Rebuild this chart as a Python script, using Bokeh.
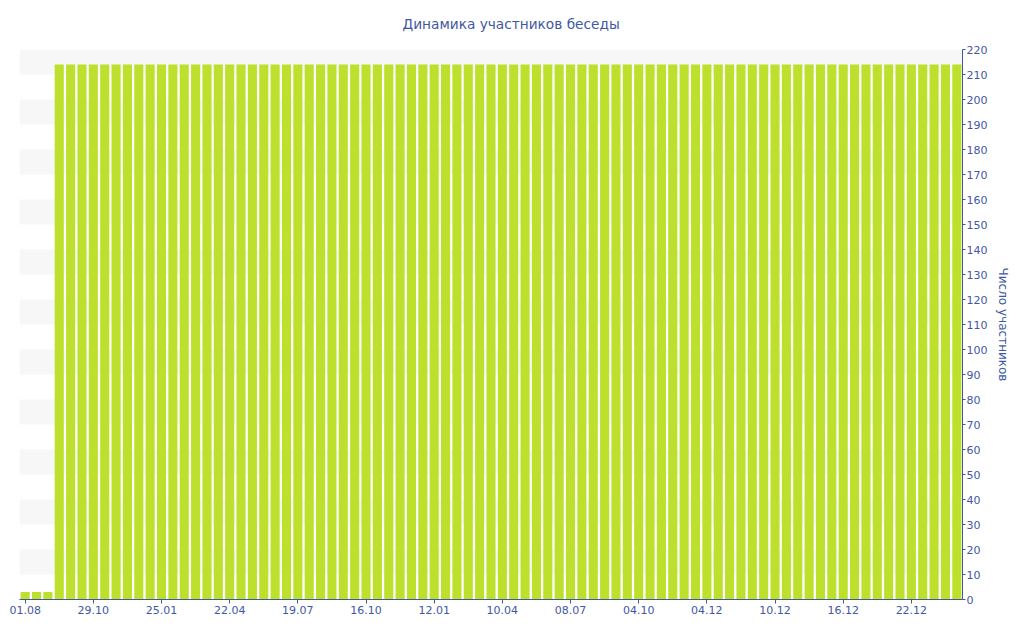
from bokeh.plotting import figure
from bokeh.models import FixedTicker, Range1d
from bokeh.embed import file_html
from bokeh.resources import INLINE

# Data
tick_labels = ["01.08", "29.10", "25.01", "22.04", "19.07", "16.10", "12.01",
               "10.04", "08.07", "04.10", "04.12", "10.12", "16.12", "22.12"]
tick_step = 6
values = [3, 3, 3] + [214] * 80
y_ticks = list(range(0, 221, 10))

TEXT = "#3f58a3"
BAR = "#bde02d"
FONT = "DejaVu Sans"

n = len(values)
xs = list(range(n))

p = figure(frame_width=943, frame_height=550, output_backend="svg", toolbar_location=None,
           x_range=Range1d(-0.5, n - 0.5), y_range=Range1d(0, 220),
           y_axis_location="right", min_border_left=19, min_border_top=10,
           min_border_bottom=10, min_border_right=10)
p.outline_line_color = None
p.background_fill_color = "white"

p.title.text = "Динамика участников беседы"
p.title.align = "left"
p.title.offset = 383
p.title.vertical_align = "top"
p.title.text_color = TEXT
p.title.text_font = FONT
p.title.text_font_size = "13.7px"
p.title.text_font_style = "normal"
p.title.text_line_height = 1.0
p.title.standoff = 31

p.vbar(x=xs, top=values, width=0.8, bottom=0, fill_color=BAR, line_color=None)

# x axis
xa = p.xaxis[0]
xticks = [i * tick_step for i in range(len(tick_labels))]
xa.ticker = FixedTicker(ticks=xticks)
xa.major_label_overrides = {t: lab for t, lab in zip(xticks, tick_labels)}
xa.axis_line_color = TEXT
xa.major_tick_line_color = TEXT
xa.major_tick_in = 0
xa.major_tick_out = 4
xa.minor_tick_line_color = None
xa.major_label_text_color = TEXT
xa.major_label_text_font = FONT
xa.major_label_text_font_size = "11px"
xa.major_label_standoff = 2

# y axis (right)
ya = p.yaxis[0]
ya.ticker = FixedTicker(ticks=y_ticks)
ya.axis_line_color = TEXT
ya.major_tick_line_color = TEXT
ya.major_tick_in = 0
ya.major_tick_out = 3
ya.minor_tick_line_color = None
ya.major_label_text_color = TEXT
ya.major_label_text_font = FONT
ya.major_label_text_font_size = "11px"
ya.major_label_standoff = 1
ya.axis_label = "Число участников"
ya.axis_label_text_color = TEXT
ya.axis_label_text_font = FONT
ya.axis_label_text_font_size = "12px"
ya.axis_label_text_font_style = "normal"
ya.axis_label_standoff = 6

p.xgrid.grid_line_color = None
p.ygrid.grid_line_color = None
p.ygrid.band_fill_color = "#f7f7f7"
p.ygrid.band_fill_alpha = 1.0

open("out.html", "w").write(file_html(p, INLINE))
